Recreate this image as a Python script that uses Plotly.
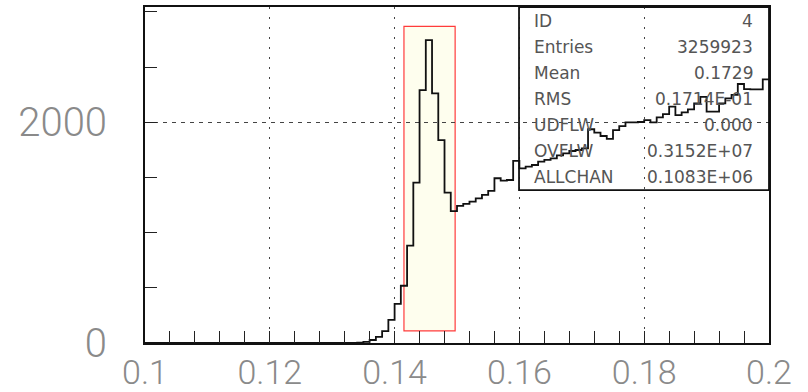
import plotly.graph_objects as go

# Histogram ID 4: 100 bins of width 0.001 between 0.1 and 0.2
BIN_LOW = 0.1
BIN_WIDTH = 0.001
COUNTS = (
    [0] * 34 +
    [4, 10, 27, 55, 108, 210, 355, 519, 882, 1453,          # 0.134 - 0.143
     2292, 2745, 2262, 1839, 1362, 1196, 1242, 1260, 1281, 1311,  # 0.144 - 0.153
     1342, 1378, 1493, 1471, 1477, 1650, 1583, 1598, 1613, 1644,  # 0.154 - 0.163
     1659, 1674, 1700, 1719, 1740, 1749, 1764, 1937, 1906, 1876,  # 0.164 - 0.173
     1850, 1930, 1965, 2000, 2000, 2003, 2020, 2000, 2045, 2075,  # 0.174 - 0.183
     2142, 2066, 2090, 2118, 2172, 2230, 2096, 2096, 2172, 2217,  # 0.184 - 0.193
     2248, 2347, 2300, 2298, 2298, 2389]                          # 0.194 - 0.199
)

# Highlighted signal window (x range and count range)
WINDOW_X = (0.1415, 0.1497)
WINDOW_Y = (110, 2870)

# Statistics box
STAT_NAMES = ["ID", "Entries", "Mean", "RMS", "UDFLW", "OVFLW", "ALLCHAN"]
STAT_VALUES = ["4", "3259923", "0.1729", "0.1714E-01", "0.000", "0.3152E+07", "0.1083E+06"]

X_TICKS = [0.1, 0.12, 0.14, 0.16, 0.18, 0.2]
X_TICK_TEXT = ["0.1", "0.12", "0.14", "0.16", "0.18", "0.2"]
Y_TICKS = [0, 2000]
Y_TICK_TEXT = ["0", "2000"]

n = len(COUNTS)
edges = [round(BIN_LOW + i * BIN_WIDTH, 6) for i in range(n + 1)]
step_x = edges
step_y = COUNTS + [COUNTS[-1]]

fig = go.Figure()
fig.add_trace(go.Scatter(
    x=step_x, y=step_y, mode="lines", line_shape="hv",
    line=dict(color="#111111", width=1.8), hoverinfo="skip", showlegend=False,
))

# signal window box, drawn under the grid and histogram
fig.add_shape(type="rect", xref="x", yref="y",
              x0=WINDOW_X[0], x1=WINDOW_X[1], y0=WINDOW_Y[0], y1=WINDOW_Y[1],
              fillcolor="#fefeee", line=dict(color="#ff3b3b", width=1.2), layer="below")

# statistics box outline (transparent)
box_left = 0.5994
box_bottom = 0.455
fig.add_shape(type="rect", xref="paper", yref="paper",
              x0=box_left, x1=1.0, y0=box_bottom, y1=1.0,
              line=dict(color="#111111", width=1.8), fillcolor="rgba(0,0,0,0)", layer="above")

row_top = 0.9592
row_step = 0.0774
for i, (name, val) in enumerate(zip(STAT_NAMES, STAT_VALUES)):
    yy = row_top - i * row_step
    fig.add_annotation(xref="paper", yref="paper", x=0.620, y=yy, text=name,
                       xanchor="left", yanchor="middle", showarrow=False,
                       font=dict(family="DejaVu Sans", size=17, color="#555555"))
    fig.add_annotation(xref="paper", yref="paper", x=0.9776, y=yy, text=val,
                       xanchor="right", yanchor="middle", showarrow=False,
                       font=dict(family="DejaVu Sans", size=17, color="#555555"))

x_tick_font = dict(family="Roboto", size=34, color="#8a8a8a", weight=300)
y_tick_font = dict(family="Roboto", size=40, color="#8a8a8a", weight=300)

fig.update_xaxes(
    range=[0.1, 0.2], tickvals=X_TICKS, ticktext=X_TICK_TEXT,
    ticks="inside", ticklen=12, tickwidth=1.2, tickcolor="#222222",
    minor=dict(dtick=0.004, tick0=0.1, ticks="inside", ticklen=12,
               tickwidth=1.2, tickcolor="#222222", showgrid=False),
    showgrid=True, gridcolor="#444444", gridwidth=1.2, griddash="2px,8px",
    showline=True, linecolor="#111111", linewidth=2, mirror=True,
    zeroline=False, tickfont=x_tick_font, ticklabelstandoff=-2, automargin=False,
)
fig.update_yaxes(
    range=[0, 3045], tickvals=Y_TICKS, ticktext=Y_TICK_TEXT,
    ticks="inside", ticklen=12, tickwidth=1.2, tickcolor="#222222",
    minor=dict(dtick=500, tick0=0, ticks="inside", ticklen=12,
               tickwidth=1.2, tickcolor="#222222", showgrid=False),
    showgrid=True, gridcolor="#444444", gridwidth=1.2, griddash="4px,5px",
    showline=True, linecolor="#111111", linewidth=2, mirror=True,
    zeroline=False, tickfont=y_tick_font, ticklabelstandoff=28, automargin=False,
)

fig.update_layout(
    width=808, height=392,
    margin=dict(l=145, r=39, t=7, b=49),
    paper_bgcolor="white", plot_bgcolor="white",
    showlegend=False,
)

fig.write_html("out.html")
